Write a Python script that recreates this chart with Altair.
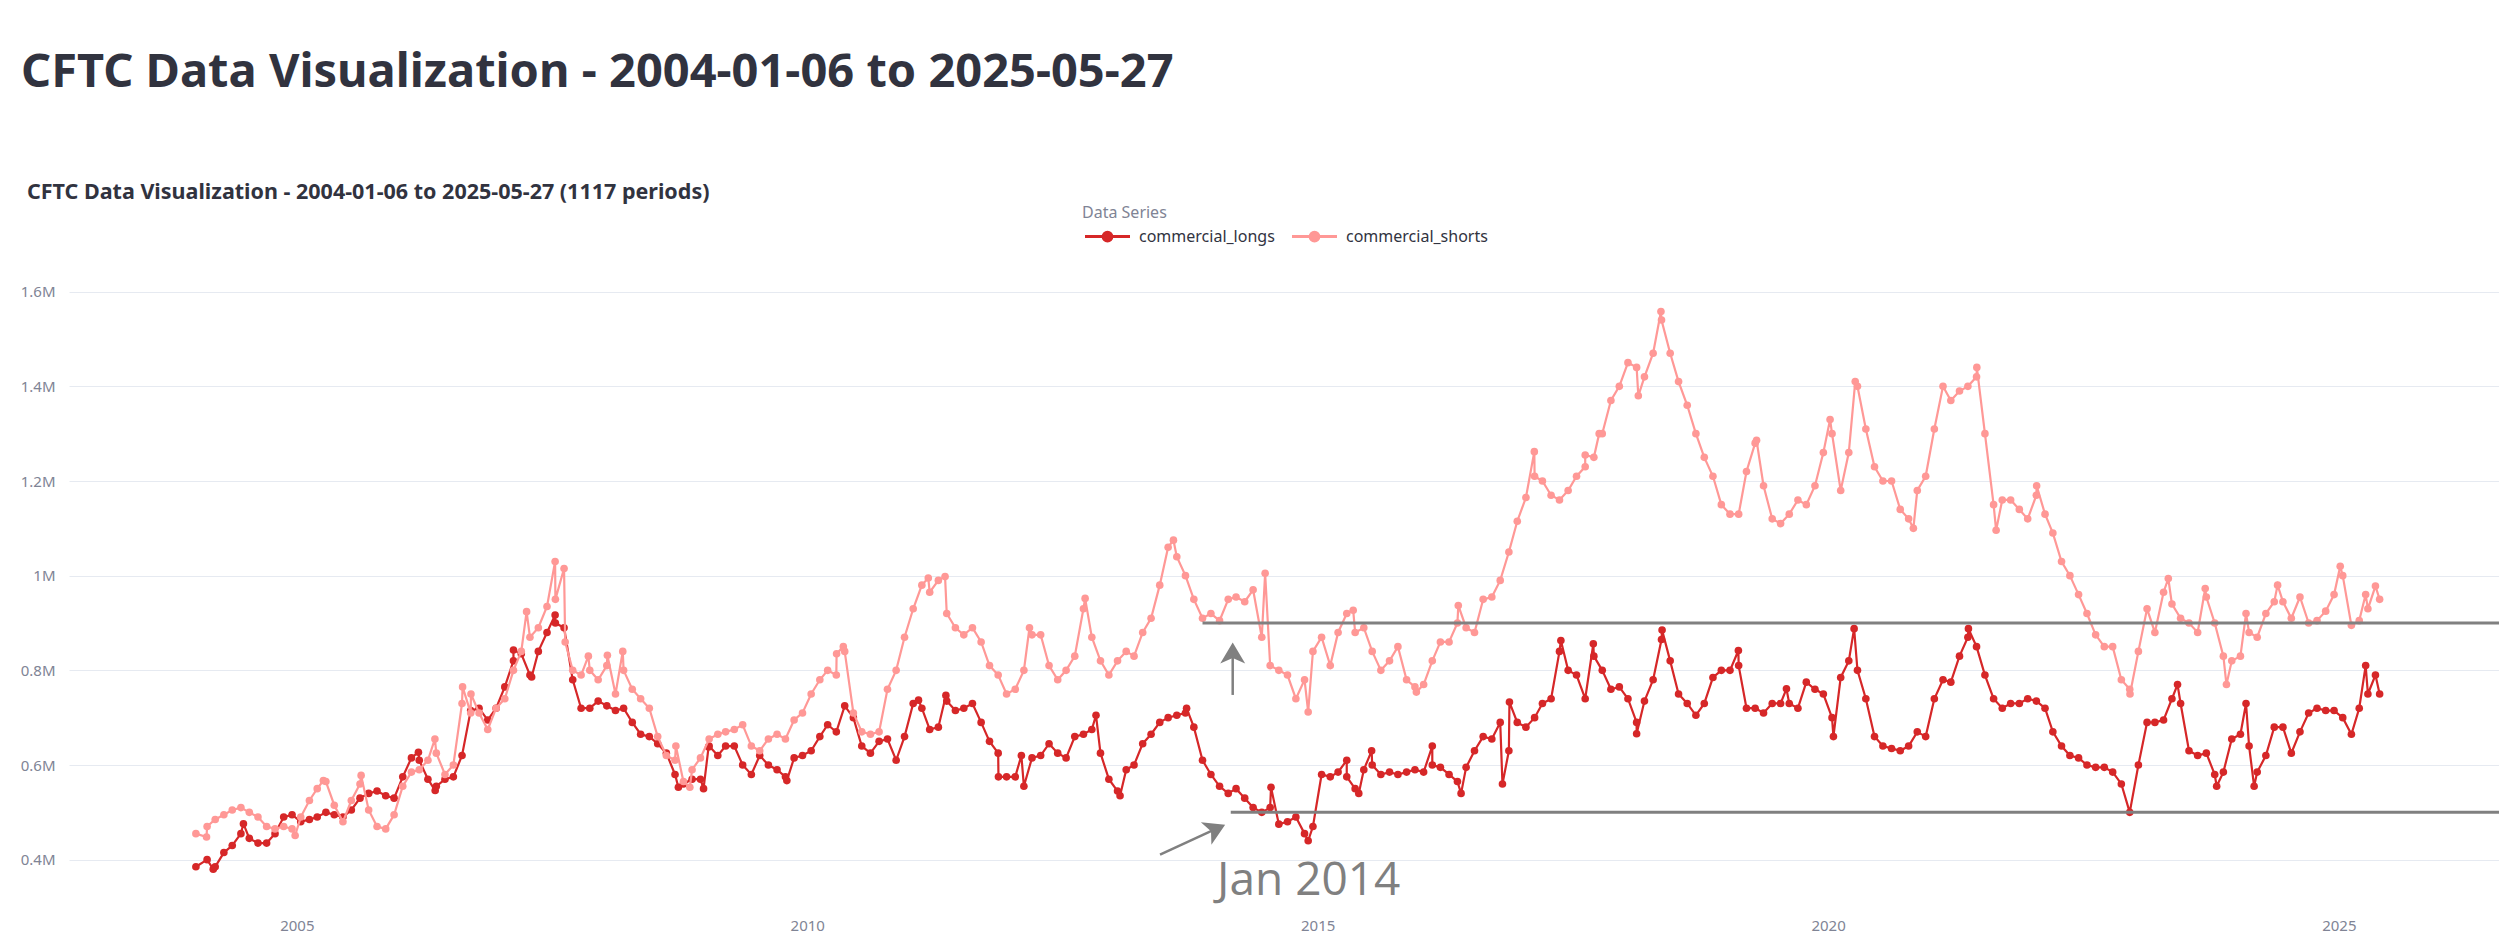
import altair as alt
import pandas as pd

# ---------------- data (readings, in millions) ----------------
series_names = ["commercial_longs", "commercial_shorts"]
series_colors = ["#d62728", "#ff9896"]

# one reading per month, Jan 2004 .. May 2025
commercial_longs = [
    # 2004
    .385, .40, .385, .415, .43, .455, .445, .435, .435, .455, .49, .495,
    # 2005
    .48, .485, .49, .50, .495, .49, .505, .53, .54, .545, .535, .53,
    # 2006
    .575, .615, .61, .57, .555, .57, .575, .62, .715, .72, .695, .72,
    # 2007
    .765, .82, .835, .79, .84, .88, .90, .89, .78, .72, .72, .735,
    # 2008
    .725, .715, .72, .69, .665, .66, .645, .625, .58, .56, .57, .57,
    # 2009
    .64, .62, .64, .64, .60, .58, .62, .60, .59, .575, .615, .62,
    # 2010
    .63, .66, .685, .67, .725, .70, .64, .625, .65, .655, .61, .66,
    # 2011
    .73, .72, .675, .68, .735, .715, .72, .73, .69, .65, .625, .575,
    # 2012
    .575, .555, .615, .62, .645, .625, .615, .66, .665, .675, .625, .57,
    # 2013
    .545, .59, .60, .645, .665, .69, .70, .705, .71, .68, .61, .58,
    # 2014
    .555, .54, .55, .53, .51, .50, .51, .475, .48, .49, .455, .47,
    # 2015
    .58, .575, .585, .575, .55, .59, .60, .58, .585, .58, .585, .59,
    # 2016
    .585, .60, .595, .58, .565, .595, .63, .66, .655, .69, .63, .69,
    # 2017
    .68, .70, .73, .74, .84, .80, .79, .74, .83, .80, .76, .765,
    # 2018
    .74, .69, .735, .78, .865, .82, .75, .73, .705, .73, .785, .80,
    # 2019
    .80, .81, .72, .72, .71, .73, .73, .73, .72, .775, .76, .75,
    # 2020
    .70, .785, .82, .80, .74, .66, .64, .635, .63, .64, .67, .66,
    # 2021
    .74, .78, .775, .83, .87, .85, .79, .74, .72, .73, .73, .74,
    # 2022
    .735, .72, .67, .64, .62, .615, .60, .595, .595, .585, .56, .50,
    # 2023
    .60, .69, .69, .695, .74, .73, .63, .62, .625, .58, .585, .655,
    # 2024
    .665, .64, .585, .62, .68, .68, .625, .67, .71, .72, .715, .715,
    # 2025
    .70, .665, .72, .75, .75,
]

commercial_shorts = [
    # 2004
    .455, .47, .485, .495, .505, .51, .50, .49, .47, .465, .47, .465,
    # 2005
    .49, .525, .55, .565, .515, .48, .525, .56, .505, .47, .465, .495,
    # 2006
    .555, .585, .59, .61, .625, .58, .60, .73, .71, .71, .675, .72,
    # 2007
    .74, .80, .84, .87, .89, .935, .95, 1.015, .80, .79, .80, .78,
    # 2008
    .81, .75, .80, .76, .74, .72, .66, .62, .61, .565, .59, .615,
    # 2009
    .655, .665, .67, .675, .685, .64, .63, .655, .665, .655, .695, .71,
    # 2010
    .75, .78, .80, .79, .84, .71, .67, .665, .67, .76, .80, .87,
    # 2011
    .93, .98, .965, .99, .92, .89, .875, .89, .86, .81, .79, .75,
    # 2012
    .76, .80, .875, .875, .81, .78, .80, .83, .93, .87, .82, .79,
    # 2013
    .82, .84, .83, .88, .91, .98, 1.06, 1.04, 1.0, .95, .91, .92,
    # 2014
    .905, .95, .955, .945, .97, .87, .81, .80, .79, .74, .78, .84,
    # 2015
    .87, .81, .88, .92, .88, .89, .84, .80, .82, .85, .78, .765,
    # 2016
    .77, .82, .86, .86, .90, .89, .88, .95, .955, .99, 1.05, 1.115,
    # 2017
    1.165, 1.21, 1.20, 1.17, 1.16, 1.18, 1.21, 1.23, 1.25, 1.30, 1.37, 1.40,
    # 2018
    1.45, 1.44, 1.42, 1.47, 1.54, 1.47, 1.41, 1.36, 1.30, 1.25, 1.21, 1.15,
    # 2019
    1.13, 1.13, 1.22, 1.28, 1.19, 1.12, 1.11, 1.13, 1.16, 1.15, 1.19, 1.26,
    # 2020
    1.30, 1.18, 1.26, 1.40, 1.31, 1.23, 1.20, 1.20, 1.14, 1.12, 1.18, 1.21,
    # 2021
    1.31, 1.40, 1.37, 1.39, 1.40, 1.42, 1.30, 1.15, 1.16, 1.16, 1.14, 1.12,
    # 2022
    1.17, 1.13, 1.09, 1.03, 1.00, .96, .92, .875, .85, .85, .78, .76,
    # 2023
    .84, .93, .88, .965, .94, .91, .90, .88, .955, .90, .83, .82,
    # 2024
    .83, .88, .87, .92, .945, .945, .91, .955, .90, .905, .925, .96,
    # 2025
    1.00, .895, .905, .93, .95,
]

# extra weekly highs / lows
longs_spike_dates = [
    "2004-03-08", "2004-06-24", "2006-03-12", "2006-05-11", "2007-02-15", "2007-04-21",
    "2007-07-14", "2008-09-27", "2008-12-26", "2009-01-13", "2009-10-20", "2011-02-03",
    "2011-05-12", "2011-11-16", "2012-02-06", "2012-10-30", "2013-01-24", "2013-09-19",
    "2014-07-18", "2014-11-28", "2015-04-15", "2015-05-28", "2015-07-13", "2016-02-15",
    "2016-05-28", "2016-10-23", "2016-11-17", "2017-05-20", "2017-09-13", "2018-02-15",
    "2018-05-17", "2019-02-14", "2019-08-05", "2020-01-20", "2020-04-03", "2021-05-17",
    "2023-06-04", "2023-10-22", "2024-02-04", "2024-03-04", "2025-04-07", "2025-05-12",
]
longs_spike_values = [
    .38, .476, .627, .546, .843, .786,
    .917, .553, .55, .638, .567, .737,
    .747, .575, .62, .705, .535, .72,
    .553, .44, .61, .54, .63, .64,
    .54, .56, .733, .863, .856, .666,
    .885, .842, .761, .66, .888, .888,
    .77, .555, .73, .555, .81, .79,
]
shorts_spike_dates = [
    "2004-02-13", "2004-12-26", "2005-04-06", "2005-08-19", "2006-05-10", "2006-08-17",
    "2006-09-16", "2007-04-03", "2007-07-14", "2007-08-19", "2007-11-10", "2008-01-17",
    "2008-03-12", "2008-09-18", "2008-11-07", "2010-04-16", "2010-05-10", "2011-03-10",
    "2011-05-09", "2012-03-06", "2012-09-21", "2013-08-03", "2014-06-27", "2014-11-28",
    "2015-05-08", "2015-12-20", "2016-05-18", "2017-02-14", "2017-08-15", "2017-10-04",
    "2018-02-21", "2018-05-13", "2019-04-20", "2020-01-08", "2020-04-07", "2020-11-01",
    "2021-06-16", "2021-08-24", "2022-01-16", "2022-12-16", "2023-05-02", "2023-09-11",
    "2023-11-26", "2024-02-04", "2024-05-27", "2025-01-06", "2025-04-07", "2025-05-12",
]
shorts_spike_values = [
    .448, .451, .567, .578, .655, .765,
    .75, .924, 1.03, .86, .83, .832,
    .84, .64, .553, .835, .85, .995,
    .998, .89, .952, 1.075, 1.005, .712,
    .927, .754, .937, 1.262, 1.255, 1.30,
    1.38, 1.558, 1.286, 1.33, 1.41, 1.10,
    1.44, 1.096, 1.19, .75, .994, .973,
    .77, .92, .98, 1.02, .96, .978,
]

first_date = "2004-01-06"
last_date = "2025-05-27"

y_tick_values = [400000, 600000, 800000, 1000000, 1200000, 1400000, 1600000]
x_tick_years = [2005, 2010, 2015, 2020, 2025]

main_title = "CFTC Data Visualization - 2004-01-06 to 2025-05-27"
chart_title = "CFTC Data Visualization - 2004-01-06 to 2025-05-27 (1117 periods)"
legend_title = "Data Series"

# annotations (data coordinates)
hline_values = [900000, 500000]
hline_starts = ["2013-11-15", "2014-02-24"]
arrow_tails = [("2014-03-03", 748000), ("2013-06-16", 410600)]
arrow_shaft_ends = [("2014-03-03", 834000), ("2013-12-27", 463400)]
arrow_tips = [("2014-03-03", 859000), ("2014-02-04", 474000)]
arrow_angles = [0, 65]
note_text = "Jan 2014"
note_pos = ("2014-01-06", 326000)

# ---------------- build tables ----------------
assert len(commercial_longs) == len(commercial_shorts) == 257
assert len(longs_spike_dates) == len(longs_spike_values)
assert len(shorts_spike_dates) == len(shorts_spike_values)
month_dates = list(pd.date_range("2004-01-01", "2025-05-01", freq="MS") + pd.Timedelta(days=14))
month_dates[0] = pd.Timestamp(first_date)
month_dates[-1] = pd.Timestamp(last_date)


def series_frame(name, values, spike_dates, spike_values):
    d = pd.DataFrame({
        "date": month_dates + list(pd.to_datetime(spike_dates)),
        "value": [v * 1e6 for v in values] + [v * 1e6 for v in spike_values],
    })
    d["series"] = name
    return d.sort_values("date")


df = pd.concat([
    series_frame(series_names[0], commercial_longs, longs_spike_dates, longs_spike_values),
    series_frame(series_names[1], commercial_shorts, shorts_spike_dates, shorts_spike_values),
], ignore_index=True)

domain_end = "2026-07-28"
hlines = pd.DataFrame({
    "start": pd.to_datetime(hline_starts),
    "end": pd.to_datetime([domain_end] * 2),
    "value": hline_values,
})
shafts = pd.DataFrame({
    "x": pd.to_datetime([t[0] for t in arrow_tails]),
    "y": [t[1] for t in arrow_tails],
    "x2": pd.to_datetime([t[0] for t in arrow_shaft_ends]),
    "y2": [t[1] for t in arrow_shaft_ends],
})
heads = pd.DataFrame({
    "x": pd.to_datetime([t[0] for t in arrow_tips]),
    "y": [t[1] for t in arrow_tips],
    "angle": arrow_angles,
})
note = pd.DataFrame({"x": [pd.Timestamp(note_pos[0])], "y": [note_pos[1]], "text": [note_text]})

# ---------------- styling ----------------
FONT = "Noto Sans"
TEXT = "#31333F"
MUTED = "#808495"
GRID = "#e6eaf1"
ANN = "#808080"

x_scale = alt.Scale(domain=[alt.DateTime(year=2002, month=10, date=9),
                            alt.DateTime(year=2026, month=7, date=28)])
y_scale = alt.Scale(domain=[300000, 1650000], nice=False, zero=False)

x_axis = alt.Axis(
    title=None, values=[alt.DateTime(year=y, month=1, date=1) for y in x_tick_years],
    format="%Y", grid=False, domain=False, ticks=False, tickSize=0,
    labelPadding=11, labelFontSize=15, labelColor=MUTED, labelFont=FONT,
)
y_axis = alt.Axis(
    title=None, values=y_tick_values,
    labelExpr="format(datum.value / 1000000, '~g') + 'M'",
    grid=True, gridColor=GRID, gridWidth=1, domain=False, ticks=False, tickSize=0,
    labelPadding=14, labelFontSize=15, labelColor=MUTED, labelFont=FONT,
)

legend_symbol = ("M-0.8125,0L4.8125,0M1.45,0A0.55,0.55,0,1,1,2.55,0"
                 "A0.55,0.55,0,1,1,1.45,0Z")
legend = alt.Legend(
    title=legend_title, orient="none", legendX=1013, legendY=-63,
    direction="horizontal", titleFont=FONT, titleFontSize=16, titleFontWeight="normal",
    titleColor=MUTED, titlePadding=6, labelFont=FONT, labelFontSize=16, labelColor=TEXT,
    symbolType=legend_symbol, symbolSize=256, symbolStrokeWidth=3, symbolOpacity=1,
    labelOffset=38, columnPadding=11,
)
color = alt.Color("series:N", scale=alt.Scale(domain=series_names, range=series_colors),
                  legend=legend)

base = alt.Chart(df).encode(
    x=alt.X("date:T", scale=x_scale, axis=x_axis),
    y=alt.Y("value:Q", scale=y_scale, axis=y_axis),
    color=color,
)

layers = []
for name in series_names:
    sub = base.transform_filter(alt.datum.series == name)
    layers.append(sub.mark_line(strokeWidth=2.2))
    layers.append(sub.mark_circle(size=58, opacity=1))

hline_layer = alt.Chart(hlines).mark_rule(color=ANN, strokeWidth=3).encode(
    x=alt.X("start:T", scale=x_scale, axis=x_axis),
    x2="end:T",
    y=alt.Y("value:Q", scale=y_scale, axis=y_axis),
)
shaft_layer = alt.Chart(shafts).mark_rule(color=ANN, strokeWidth=2.5).encode(
    x=alt.X("x:T", scale=x_scale, axis=x_axis),
    x2="x2:T",
    y=alt.Y("y:Q", scale=y_scale, axis=y_axis),
    y2="y2:Q",
)
head_layer = alt.Chart(heads).mark_point(
    shape="M0,0L1.04,1.75L0,1.3L-1.04,1.75Z", filled=True, size=576, color=ANN, opacity=1,
).encode(
    x=alt.X("x:T", scale=x_scale, axis=x_axis),
    y=alt.Y("y:Q", scale=y_scale, axis=y_axis),
    angle=alt.Angle("angle:Q", scale=None),
)
note_layer = alt.Chart(note).mark_text(
    font="Open Sans", fontSize=46, color=ANN, align="left", baseline="alphabetic",
).encode(
    x=alt.X("x:T", scale=x_scale, axis=x_axis),
    y=alt.Y("y:Q", scale=y_scale, axis=y_axis),
    text="text:N",
)

title_layer = alt.Chart(pd.DataFrame({"t": [main_title]})).mark_text(
    font=FONT, fontSize=47, fontWeight="bold", color=TEXT, align="left", baseline="alphabetic",
).encode(text="t:N", x=alt.value(-48), y=alt.value(-181))
subtitle_layer = alt.Chart(pd.DataFrame({"t": [chart_title]})).mark_text(
    font=FONT, fontSize=21.5, fontWeight="bold", color=TEXT, align="left", baseline="alphabetic",
).encode(text="t:N", x=alt.value(-42), y=alt.value(-69))

chart = alt.layer(
    *layers, hline_layer, shaft_layer, head_layer, note_layer, title_layer, subtitle_layer
).properties(
    width=2430, height=639,
    padding={"left": 61, "top": 260, "right": 0, "bottom": 27},
    autosize=alt.AutoSizeParams(type="none"),
    background="white",
).configure_view(stroke=None)

chart.save("out.html", embed_options={"renderer": "svg", "actions": False})
